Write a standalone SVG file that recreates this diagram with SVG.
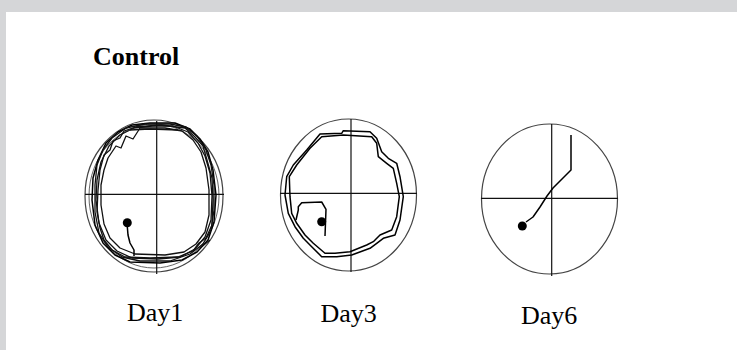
<svg xmlns="http://www.w3.org/2000/svg" width="737" height="350" viewBox="0 0 737 350">
<style>
.ring{fill:none;stroke:#444;stroke-width:1.2}
.ring2{fill:none;stroke:#666;stroke-width:1}
.axis{stroke:#111;stroke-width:1.2}
.trk{fill:none;stroke:#000;stroke-width:1.5;stroke-linejoin:round}
.trk2{fill:none;stroke:#111;stroke-width:1.3;stroke-linejoin:round}
.dot{fill:#000}
.lbl{font-family:"Liberation Serif","Times New Roman",serif;font-size:26px;fill:#000}
.ttl{font-family:"Liberation Serif","Times New Roman",serif;font-size:26px;font-weight:bold;fill:#000}
</style>
<rect x="0" y="0" width="737" height="350" fill="#d5d6d8"/>
<rect x="6" y="12" width="731" height="338" fill="#ffffff"/>
<text class="ttl" x="93" y="65">Control</text>
<g id="day1">
<ellipse class="ring" cx="154" cy="196" rx="69" ry="76"/>
<ellipse class="ring2" cx="154" cy="196" rx="65" ry="72"/>
<line class="axis" x1="156.7" y1="121" x2="156.7" y2="274"/>
<line class="axis" x1="85" y1="194.3" x2="224" y2="194.3"/>
<path class="trk" d="M98,160 L106,143 L118,132 L132,125 L150,123 L175,123 L190,129 L200,139 L208,152 L213,170 L216,195 L214,222 L208,240 L197,252 L182,260 L160,263 L130,262 L115,255 L103,243 L95,225 L92,200 L93,178 Z"/>
<path class="trk2" d="M101,162 L109,146 L120,135 L134,128 L152,126 L173,126 L188,132 L198,143 L205,156 L210,173 L212,196 L211,220 L205,237 L195,249 L180,257 L158,259 L132,258 L117,251 L106,240 L99,223 L96,200 L97,180 Z"/>
<path class="trk2" d="M100,170 L104,155 L110,150 L113,141 L120,138 L124,131 L136,127 L160,125 L185,128 L195,137 L203,146 L207,160 L212,178 L213,200 L212,225 L206,238 L199,243 L193,251 L178,257 L150,258 L125,257 L112,250 L104,240 L100,228 L97,212 L98,190 Z"/>
<path class="trk2" d="M95,185 L97,165 L103,150 L112,138 L126,128 L145,124 L170,124 L186,127 L197,136 L206,150 L211,165 L214,185 L214,210 L211,230 L203,244 L190,254 L170,261 L140,261 L122,257 L108,247 L99,233 L95,212 Z"/>
<path class="trk2" d="M104,170 L108,158 L116,146 L121,148 L126,136 L133,139 L140,128 L165,128 L182,131 L193,140 L201,152 L206,168 L209,190 L209,215 L205,232 L196,244 L184,252 L165,255 L135,254 L120,248 L110,238 L104,224 L101,205 L101,185 Z"/>
<path class="trk2" d="M130,130 L150,129 L178,130 M210,240 L200,248"/>
<path class="trk" d="M127,223 L128,235 L130,243 L134,250 L134,256"/>
<circle class="dot" cx="127.3" cy="222.7" r="4.5"/>
</g>
<g id="day3">
<ellipse class="ring" cx="348.5" cy="195" rx="68" ry="76"/>
<line class="axis" x1="351" y1="119" x2="351" y2="272"/>
<line class="axis" x1="280" y1="193.3" x2="417" y2="193.3"/>
<path class="trk" d="M320,134 L341.7,133.3 L343.3,130.7 L370,131.7 L376.7,138.3 L381.7,151.7 L388.3,158.3 L396.7,163.3 L400,176.7 L403.3,196.7 L400,220 L395,235 L383.3,238.3 L376.7,243.3 L370,248.3 L351.7,255 L336.7,256.7 L321.7,256.7 L311.7,246.7 L303.3,238.3 L295,226.7 L288.3,213.3 L285,195 L286.7,176.7 L293.3,165 L306.7,150 Z"/>
<path class="trk" d="M321.7,136.7 L343.3,135 L371.7,136.7 L376.7,143.3 L378.3,156.7 L386.7,163.3 L393.3,168.3 L396.7,183.3 L399.3,196.7 L396.7,216.7 L391.7,230 L380,235 L373.3,241.7 L366.7,245 L350,251.7 L335,253.3 L325,253.3 L313.3,243.3 L305,235 L296.7,223.3 L291.7,213.3 L290,196.7 L289.3,176.7 L296.7,165 L310,148.3 Z"/>
<path class="trk" d="M296,220 L298.3,210 L298.3,206.7 L301.7,202.7 L321.7,202 L326,209.3 L325,236"/>
<circle class="dot" cx="321.7" cy="221.7" r="4.5"/>
</g>
<g id="day6">
<ellipse class="ring" cx="549.5" cy="199" rx="68" ry="75"/>
<line class="axis" x1="551.7" y1="124" x2="551.7" y2="276"/>
<line class="axis" x1="481" y1="198.3" x2="618" y2="198.3"/>
<path class="trk" d="M571,135 L571,170 L563,178 L553,188 L547,196 L540,207 L533,217 L526,222"/>
<circle class="dot" cx="522.3" cy="226" r="4.5"/>
</g>
<g id="labels">
<text class="lbl" x="127" y="321">Day1</text>
<text class="lbl" x="320.5" y="321.7">Day3</text>
<text class="lbl" x="521" y="324.3">Day6</text>
</g>
</svg>
